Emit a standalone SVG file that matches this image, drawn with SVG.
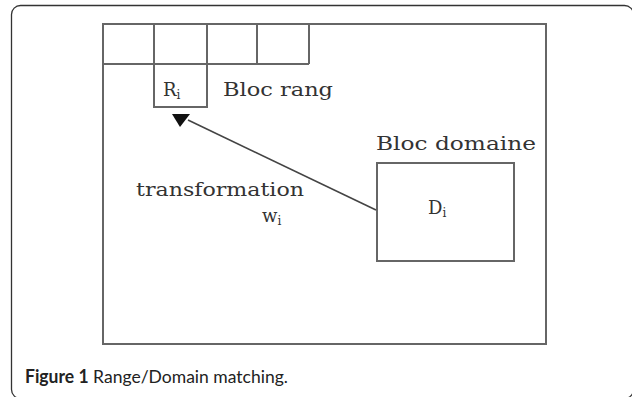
<svg xmlns="http://www.w3.org/2000/svg" width="632" height="397" viewBox="0 0 632 397">
<style>
.box{fill:none;stroke:#666;stroke-width:2}
.lbl{font-family:"DejaVu Serif","Liberation Serif",serif;fill:#333;font-size:18px}
.sub{font-size:12px}
.cap{font-family:Lato,"Open Sans",sans-serif;fill:#222;font-size:18px}
</style>
<rect x="11.5" y="5.5" width="622" height="393" rx="9" fill="#fff" stroke="#333" stroke-width="1.3"/>
<g id="frame">
<rect class="box" x="103" y="24" width="443" height="320"/>
</g>
<g id="grid">
<line class="box" x1="103" y1="64" x2="309" y2="64"/>
<line class="box" x1="154" y1="24" x2="154" y2="64"/>
<line class="box" x1="207" y1="24" x2="207" y2="64"/>
<line class="box" x1="257" y1="24" x2="257" y2="64"/>
<line class="box" x1="309" y1="24" x2="309" y2="64"/>
</g>
<g id="range-block">
<rect class="box" x="154" y="64" width="53" height="43"/>
<text class="lbl" x="163" y="96">R<tspan class="sub" dy="3">i</tspan></text>
<text class="lbl" x="223" y="96" textLength="110" lengthAdjust="spacingAndGlyphs">Bloc rang</text>
</g>
<g id="domain-block">
<text class="lbl" x="376" y="150" textLength="160" lengthAdjust="spacingAndGlyphs">Bloc domaine</text>
<rect class="box" x="377" y="163" width="137" height="98"/>
<text class="lbl" x="428" y="214">D<tspan class="sub" dy="3">i</tspan></text>
</g>
<g id="transformation-label">
<text class="lbl" x="136" y="196" textLength="168" lengthAdjust="spacingAndGlyphs">transformation</text>
<text class="lbl" x="262" y="222">w<tspan class="sub" dy="3">i</tspan></text>
</g>
<g id="connectors">
<line x1="376" y1="210" x2="188" y2="120" stroke="#444" stroke-width="1.6"/>
<polygon points="172,114 190,114 180,127" fill="#111"/>
</g>
<g id="caption">
<text class="cap" x="25" y="383" textLength="263" lengthAdjust="spacingAndGlyphs"><tspan font-weight="bold">Figure 1</tspan> Range/Domain matching.</text>
</g>
</svg>
